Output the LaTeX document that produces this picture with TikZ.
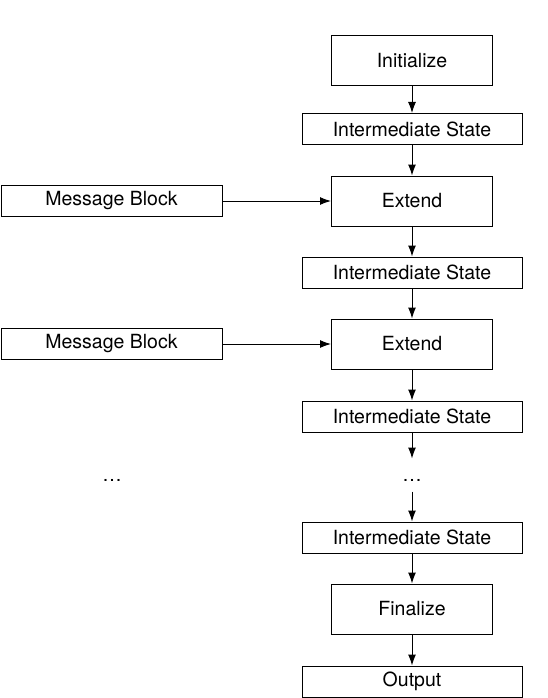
\documentclass[tikz,border=0pt]{standalone}
\usepackage{fontspec}
\setmainfont{TeX Gyre Heros}
\usepackage{tikz}
\usetikzlibrary{arrows.meta}

\begin{document}
\begin{tikzpicture}[x=1pt, y=-1pt, line width=1pt,
    font=\fontsize{19.5}{22}\selectfont,
    step box/.style={draw, inner sep=0pt, minimum width=161pt, minimum height=50pt},
    state box/.style={draw, inner sep=0pt, minimum width=220pt, minimum height=31pt},
    msg box/.style={draw, inner sep=0pt, minimum width=221pt, minimum height=31pt},
    gap/.style={inner sep=0pt, text height=22pt, text depth=10pt, anchor=base},
    >={Latex[length=11pt, width=8pt]}]
    \useasboundingbox (0, 0) rectangle (548, 698);

    \node[step box] at (412, 61) (I) {Initialize};
    \node[state box] at (412, 129) (1S) {Intermediate State};

    \node[step box] at (412, 201) (1E) {Extend};
    \node[msg box] at (111.5, 201) (1M) {Message Block};
    \node[state box] at (412, 272.5) (2S) {Intermediate State};

    \node[step box] at (412, 344) (2E) {Extend};
    \node[msg box] at (111.5, 344) (2M) {Message Block};
    \node[state box] at (412, 416.5) (3S) {Intermediate State};

    \node[gap] at (412, 481) (D) {\ldots};
    \node[gap] at (112, 481) (DM) {\ldots};

    \node[state box] at (412, 537.5) (4S) {Intermediate State};
    \node[step box] at (412, 609) (F) {Finalize};
    \node[state box] at (412, 681.5) (O) {Output};

    \draw[->] (I) -- (1S);
    \draw[->] (1S) -- (1E);
    \draw[->] (1M) -- (1E);
    \draw[->] (1E) -- (2S);
    \draw[->] (2S) -- (2E);
    \draw[->] (2M) -- (2E);
    \draw[->] (2E) -- (3S);
    \draw[->] (3S) -- (D);
    \draw[->] (D) -- (4S);
    \draw[->] (4S) -- (F);
    \draw[->] (F) -- (O);
\end{tikzpicture}
\end{document}
